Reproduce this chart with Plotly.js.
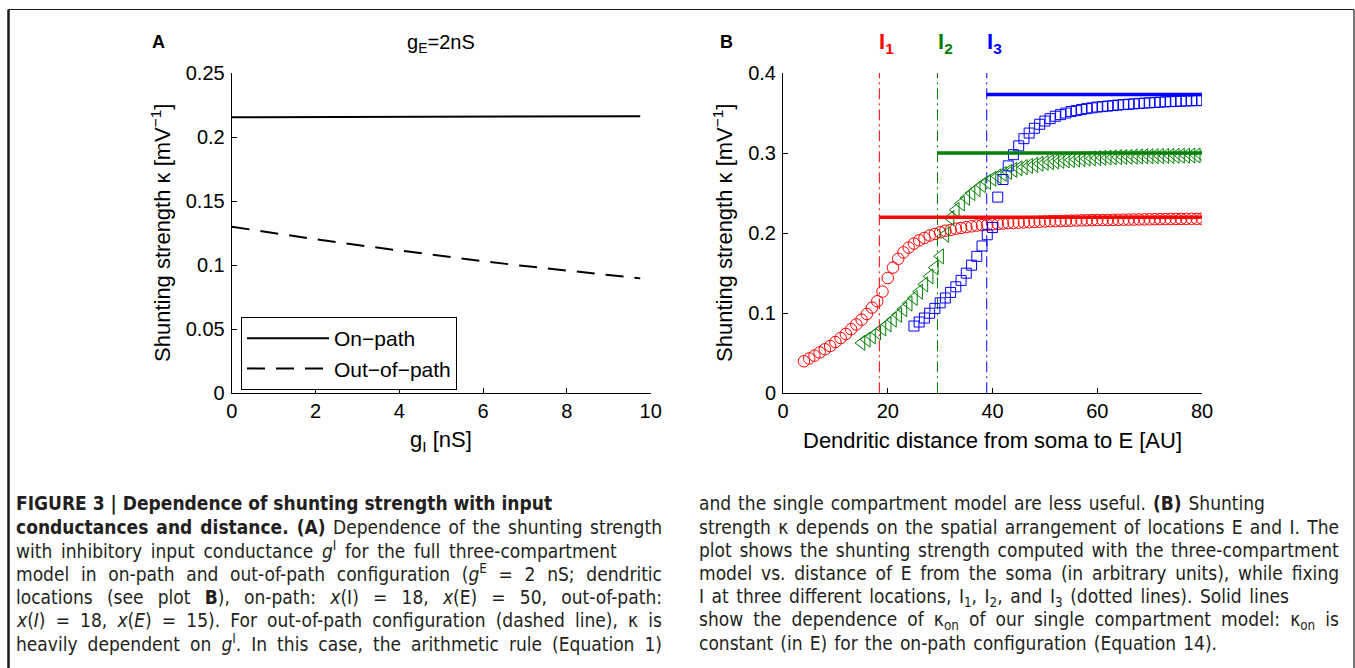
<!DOCTYPE html>
<html><head><meta charset="utf-8">
<script src="https://cdn.plot.ly/plotly-3.0.1.min.js"></script>
<style>html,body{margin:0;padding:0;background:#fff;} #chart{width:1355px;height:668px;}</style>
</head><body><div id="chart"></div>
<script>
const W = 1355, H = 668;
const px = x => x / W, py = y => 1 - y / H;

// ---------- Panel A data ----------
const gI = [0, 1, 2, 3, 4, 5, 6, 7, 8, 9, 9.75];
const kappaOnPath = [0.2155, 0.2156, 0.2157, 0.2158, 0.2158, 0.2159, 0.2160, 0.2161, 0.2162, 0.2163, 0.2163];
const kappaOutOfPath = [0.130, 0.125, 0.1203, 0.1157, 0.1113, 0.1071, 0.1031, 0.0993, 0.0957, 0.0922, 0.0897];
const ticksAX = [0, 2, 4, 6, 8, 10];
const ticksAY = [0, 0.05, 0.1, 0.15, 0.2, 0.25];
const tickTextAY = ['0', '0.05', '0.1', '0.15', '0.2', '0.25'];

// ---------- Panel B data ----------
const distI1 = [4,5,6,7,8,9,10,11,12,13,14,15,16,17,18,19,20,21,22,23,24,25,26,27,28,29,30,31,32,33,34,35,36,37,38,39,40,41,42,43,44,45,46,47,48,49,50,51,52,53,54,55,56,57,58,59,60,61,62,63,64,65,66,67,68,69,70,71,72,73,74,75,76,77,78,79,80];
const kappaI1 = [0.040,0.0435,0.047,0.051,0.055,0.059,0.064,0.069,0.074,0.080,0.086,0.092,0.099,0.107,0.115,0.127,0.144,0.157,0.168,0.176,0.182,0.187,0.191,0.194,0.197,0.199,0.201,0.203,0.204,0.2055,0.2065,0.2075,0.2085,0.2095,0.210,0.2105,0.211,0.2115,0.212,0.2125,0.2128,0.2131,0.2134,0.2137,0.214,0.2143,0.2146,0.2148,0.215,0.2152,0.2154,0.2156,0.2158,0.216,0.2161,0.2162,0.2163,0.2164,0.2165,0.2166,0.2167,0.2168,0.2169,0.217,0.2171,0.2172,0.2173,0.2174,0.2175,0.2176,0.2177,0.2177,0.2178,0.2178,0.2179,0.2179,0.218];
const distI2 = [15,16,17,18,19,20,21,22,23,24,25,26,27,28,29,30,31,32,33,34,35,36,37,38,39,40,41,42,43,44,45,46,47,48,49,50,51,52,53,54,55,56,57,58,59,60,61,62,63,64,65,66,67,68,69,70,71,72,73,74,75,76,77,78,79,80];
const kappaI2 = [0.063,0.067,0.071,0.076,0.081,0.086,0.092,0.098,0.105,0.112,0.119,0.127,0.136,0.146,0.157,0.171,0.198,0.219,0.229,0.237,0.244,0.250,0.255,0.260,0.264,0.268,0.271,0.274,0.2765,0.279,0.281,0.2825,0.284,0.2855,0.2867,0.2878,0.2887,0.2895,0.2902,0.2908,0.2914,0.292,0.2925,0.293,0.2934,0.2938,0.2941,0.2944,0.2947,0.295,0.2952,0.2954,0.2956,0.2958,0.296,0.2961,0.2962,0.2963,0.2964,0.2965,0.2966,0.2967,0.2968,0.2969,0.297,0.297];
const distI3 = [25,26,27,28,29,30,31,32,33,34,35,36,37,38,39,40,41,42,43,44,45,46,47,48,49,50,51,52,53,54,55,56,57,58,59,60,61,62,63,64,65,66,67,68,69,70,71,72,73,74,75,76,77,78,79,80];
const kappaI3 = [0.084,0.089,0.094,0.100,0.106,0.113,0.119,0.126,0.133,0.141,0.150,0.160,0.171,0.184,0.198,0.207,0.245,0.267,0.284,0.298,0.309,0.318,0.325,0.331,0.336,0.340,0.343,0.346,0.348,0.350,0.352,0.353,0.3545,0.3555,0.3565,0.3575,0.358,0.3587,0.3593,0.360,0.3605,0.361,0.3615,0.362,0.3624,0.3628,0.3632,0.3636,0.364,0.3643,0.3646,0.3649,0.3651,0.3653,0.3655,0.3657];
const inhibLocations = [18.4, 29.5, 38.9];          // I1, I2, I3
const inhibNames = ['I<sub>1</sub>', 'I<sub>2</sub>', 'I<sub>3</sub>'];
const kappaOn = [0.220, 0.300, 0.373];              // single compartment model
const distMax = 80;
const colors = ['#ff0000', '#008000', '#0000ff'];
const ticksBX = [0, 20, 40, 60, 80];
const ticksBY = [0, 0.1, 0.2, 0.3, 0.4];

// ---------- caption ----------
const captionLeft = [
  '<b>FIGURE 3 | Dependence of shunting strength with input</b>',
  '<b>conductances and distance. (A)</b> Dependence of the shunting strength',
  'with inhibitory input conductance <i>g</i><sup>I</sup> for the full three-compartment',
  'model in on-path and out-of-path configuration (<i>g</i><sup>E</sup> = 2 nS; dendritic',
  'locations (see plot <b>B</b>), on-path: <i>x</i>(I) = 18, <i>x</i>(E) = 50, out-of-path:',
  '<i>x</i>(<i>I</i>) = 18, <i>x</i>(<i>E</i>) = 15). For out-of-path configuration (dashed line), κ is',
  'heavily dependent on <i>g</i><sup>I</sup>. In this case, the arithmetic rule (Equation 1)'
];
const captionRight = [
  'and the single compartment model are less useful. <b>(B)</b> Shunting',
  'strength κ depends on the spatial arrangement of locations E and I. The',
  'plot shows the shunting strength computed with the three-compartment',
  'model vs. distance of E from the soma (in arbitrary units), while fixing',
  'I at three different locations, I<sub>1</sub>, I<sub>2</sub>, and I<sub>3</sub> (dotted lines). Solid lines',
  'show the dependence of κ<sub>on</sub> of our single compartment model: κ<sub>on</sub> is',
  'constant (in E) for the on-path configuration (Equation 14).'
];
const captionLineY = [503, 527, 550, 573, 597, 620, 643];
const captionColX = [14, 697];
// right edge each caption line reaches in the justified layout
const captionLeftEnd = [545, 660, 615, 660, 660, 660, 660];
const captionRightEnd = [1263, 1337, 1337, 1337, 1287, 1337, 1215];

// ---------- traces ----------
const traces = [
  {x: gI, y: kappaOnPath, xaxis: 'x', yaxis: 'y', mode: 'lines', name: 'On−path',
   line: {color: '#000', width: 2}},
  {x: gI, y: kappaOutOfPath, xaxis: 'x', yaxis: 'y', mode: 'lines', name: 'Out−of−path',
   line: {color: '#000', width: 2, dash: '18px,11px'}}
];
const seriesB = [[distI1, kappaI1, 'circle-open', 11.5], [distI2, kappaI2, 'triangle-left-open', 13], [distI3, kappaI3, 'square-open', 10]];
seriesB.forEach((s, i) => {
  traces.push({x: [inhibLocations[i], inhibLocations[i]], y: [0, 0.4], xaxis: 'x2', yaxis: 'y2', mode: 'lines',
    showlegend: false, hoverinfo: 'skip', line: {color: colors[i], width: 1, dash: '11px,4px,2px,4px'}});
});
seriesB.forEach((s, i) => {
  traces.push({x: s[0], y: s[1], xaxis: 'x2', yaxis: 'y2', mode: 'markers', showlegend: false,
    marker: {symbol: s[2], size: s[3], color: colors[i], line: {width: 1, color: colors[i]}}});
});
seriesB.forEach((s, i) => {
  traces.push({x: [inhibLocations[i], distMax], y: [kappaOn[i], kappaOn[i]], xaxis: 'x2', yaxis: 'y2', mode: 'lines',
    showlegend: false, line: {color: colors[i], width: 3.5}});
});

// ---------- layout ----------
const axisBase = {showline: true, linecolor: '#000', linewidth: 1, ticks: 'inside', ticklen: 5, tickwidth: 1,
  tickcolor: '#000', showgrid: false, zeroline: false, fixedrange: true, tickfont: {size: 20}};
const yTop = py(73), yBot = py(393.3);

const annotations = [
  {text: '<b>A</b>', x: px(158), y: py(42), font: {size: 18}},
  {text: '<b>B</b>', x: px(727), y: py(42), font: {size: 18}},
  {text: 'g<sub>E</sub>=2nS', x: px(441), y: py(44), font: {size: 20}},
  {text: 'g<sub>I</sub> [nS]', x: px(441), y: py(441), font: {size: 22}},
  {text: 'Dendritic distance from soma to E [AU]', x: px(992.5), y: py(440), font: {size: 22}},
  {text: 'Shunting strength κ [mV<sup>−1</sup>]', x: px(161), y: py(233), textangle: -90, font: {size: 22}},
  {text: 'Shunting strength κ [mV<sup>−1</sup>]', x: px(723), y: py(233), textangle: -90, font: {size: 22}}
].map(a => Object.assign({xref: 'paper', yref: 'paper', showarrow: false, xanchor: 'center', yanchor: 'middle'}, a));

inhibLocations.forEach((loc, i) => {
  annotations.push({text: '<b>' + inhibNames[i] + '</b>', x: loc, xref: 'x2', y: py(43), yref: 'paper',
    xanchor: 'left', yanchor: 'middle', xshift: -2, showarrow: false, font: {size: 22, color: colors[i]}});
});

const capFont = {family: '"DejaVu Sans Condensed", "Liberation Sans Narrow", Roboto, sans-serif', size: 19, color: '#231f20'};
const nBefore = annotations.length;
[captionLeft, captionRight].forEach((col, c) => col.forEach((t, i) => annotations.push({
  text: t, x: px(captionColX[c]), y: py(captionLineY[i]), xref: 'paper', yref: 'paper',
  xanchor: 'left', yanchor: 'middle', showarrow: false, align: 'left', font: capFont})));

const frame = [
  {type: 'line', xref: 'paper', yref: 'paper', x0: px(8.5), x1: px(8.5), y0: 0, y1: py(9.5), line: {color: '#1a1a1a', width: 2.5}},
  {type: 'line', xref: 'paper', yref: 'paper', x0: px(8.5), x1: px(1354), y0: py(9.5), y1: py(9.5), line: {color: '#1a1a1a', width: 1}},
  {type: 'line', xref: 'paper', yref: 'paper', x0: px(1354), x1: px(1354), y0: 0, y1: py(9.5), line: {color: '#1a1a1a', width: 1.2}}
];

const layout = {
  width: W, height: H, margin: {l: 0, r: 0, t: 0, b: 0},
  paper_bgcolor: '#fff', plot_bgcolor: '#fff',
  font: {family: '"Liberation Sans", Arial, Helvetica, sans-serif', color: '#000', size: 20},
  showlegend: true,
  legend: {x: px(241), y: py(317), xanchor: 'left', yanchor: 'top', bordercolor: '#000', borderwidth: 1,
    bgcolor: '#fff', font: {size: 21}, itemwidth: 82, tracegroupgap: 0},
  xaxis: Object.assign({}, axisBase, {domain: [px(231.7), px(650.7)], range: [0, 10], anchor: 'y', tickvals: ticksAX}),
  yaxis: Object.assign({}, axisBase, {domain: [yBot, yTop], range: [0, 0.25], anchor: 'x', tickvals: ticksAY, ticktext: tickTextAY, ticklabelstandoff: 2}),
  xaxis2: Object.assign({}, axisBase, {domain: [px(783), px(1202)], range: [0, 80], anchor: 'y2', tickvals: ticksBX}),
  yaxis2: Object.assign({}, axisBase, {domain: [yBot, yTop], range: [0, 0.4], anchor: 'x2', tickvals: ticksBY, ticklabelstandoff: 2}),
  shapes: frame,
  annotations: annotations
};

Plotly.newPlot('chart', traces, layout, {displayModeBar: false, staticPlot: true}).then(() => {
  // justify caption lines by widening word spacing up to each line's right edge
  const ends = captionLeftEnd.concat(captionRightEnd);
  const starts = captionLeft.map(() => captionColX[0]).concat(captionRight.map(() => captionColX[1]));
  const texts = Array.from(document.querySelectorAll('#chart .annotation-text'));
  texts.slice(nBefore).forEach((t, i) => {
    const w = t.getBBox().width;
    const spaces = (t.textContent.match(/ /g) || []).length;
    const extra = ends[i] - starts[i] - w;
    if (spaces > 0 && extra > 0) t.style.wordSpacing = (extra / spaces) + 'px';
  });
});
</script></body></html>
